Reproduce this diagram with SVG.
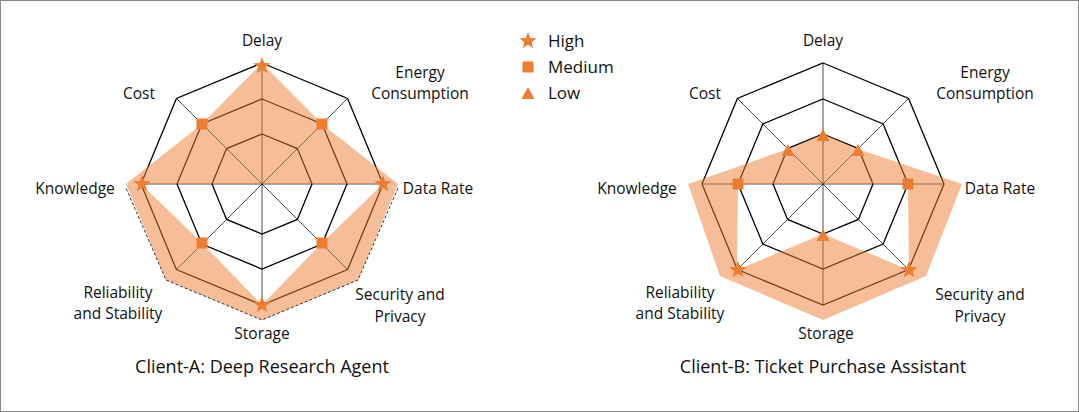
<svg xmlns="http://www.w3.org/2000/svg" xmlns:xlink="http://www.w3.org/1999/xlink" width="1079" height="412" viewBox="0 0 1079 412">
<style>
text{font-family:"Open Sans","Liberation Sans",sans-serif;font-size:15.5px;fill:#111;text-anchor:middle}
.t{font-size:18px}
.lg{text-anchor:start;font-size:17px}
.ring{fill:none;stroke:#000;stroke-width:1.3}
.spoke{stroke:#000;stroke-width:0.7}
.sh{fill:#ED7D31;fill-opacity:0.5;stroke:none}
.m{fill:#ED7D31}
.dash{fill:none;stroke:#333;stroke-width:1;stroke-dasharray:3 2}
</style>
<defs>
<path id="star" d="M0,-9 2.23,-3.07 8.56,-2.78 3.61,1.17 5.29,7.28 0,3.8 -5.29,7.28 -3.61,1.17 -8.56,-2.78 -2.23,-3.07Z"/>
<rect id="sq" x="-5.5" y="-5.5" width="11" height="11"/>
<path id="tri" d="M0,-7 6.5,5 -6.5,5Z"/>
<g id="grid">
<polygon class="ring" points="0,-121 85.6,-85.6 121,0 85.6,85.6 0,121 -85.6,85.6 -121,0 -85.6,-85.6"/>
<polygon class="ring" points="0,-85 60.1,-60.1 85,0 60.1,60.1 0,85 -60.1,60.1 -85,0 -60.1,-60.1"/>
<polygon class="ring" points="0,-50 35.4,-35.4 50,0 35.4,35.4 0,50 -35.4,35.4 -50,0 -35.4,-35.4"/>
<path class="spoke" d="M0,-121V121M-121,0H121M-85.6,-85.6L85.6,85.6M85.6,-85.6L-85.6,85.6"/>
</g>
</defs>
<rect x="0.5" y="0.5" width="1078" height="411" fill="#fff" stroke="#888"/>
<g id="chartA">
<use xlink:href="#grid" x="262" y="184"/>
<polygon class="sh" points="126,184 202,124 262,63 322,124 398,184"/>
<polygon class="sh" points="398,184 358,280 262,320 166,280 126,184 141,184 202,243 262,305 322,243 383,184"/>
<polyline class="dash" points="398,188 358,280 262,320 166,280 126,188"/>
<g class="m">
<use xlink:href="#star" x="262" y="66"/>
<use xlink:href="#sq" x="322" y="124"/>
<use xlink:href="#star" x="383" y="184"/>
<use xlink:href="#sq" x="322" y="243"/>
<use xlink:href="#star" x="262" y="305"/>
<use xlink:href="#sq" x="202" y="243"/>
<use xlink:href="#star" x="142" y="184"/>
<use xlink:href="#sq" x="202" y="124"/>
</g>
<text x="262" y="46">Delay</text>
<text x="420" y="78">Energy</text>
<text x="420" y="99">Consumption</text>
<text x="139" y="99">Cost</text>
<text x="438" y="194">Data Rate</text>
<text x="75" y="194">Knowledge</text>
<text x="118" y="298">Reliability</text>
<text x="118" y="319">and Stability</text>
<text x="400" y="300">Security and</text>
<text x="400" y="322">Privacy</text>
<text x="262" y="339">Storage</text>
<text class="t" x="262" y="373">Client-A: Deep Research Agent</text>
</g>
<g id="chartB">
<use xlink:href="#grid" x="823" y="184"/>
<polygon class="sh" points="688,184 788,149 823,134 858,149 962,184"/>
<polygon class="sh" points="962,184 926,276 823,320 720,276 688,184 738,184 737,270 823,234 909,270 908,184"/>
<g class="m">
<use xlink:href="#tri" x="823" y="136"/>
<use xlink:href="#tri" x="858" y="151"/>
<use xlink:href="#sq" x="908" y="184"/>
<use xlink:href="#star" x="909" y="270"/>
<use xlink:href="#tri" x="823" y="236"/>
<use xlink:href="#star" x="738" y="270"/>
<use xlink:href="#sq" x="738" y="184"/>
<use xlink:href="#tri" x="788" y="151"/>
</g>
<text x="823" y="46">Delay</text>
<text x="985" y="78">Energy</text>
<text x="985" y="99">Consumption</text>
<text x="705" y="99">Cost</text>
<text x="1000" y="194">Data Rate</text>
<text x="637" y="194">Knowledge</text>
<text x="680" y="298">Reliability</text>
<text x="680" y="319">and Stability</text>
<text x="980" y="300">Security and</text>
<text x="980" y="322">Privacy</text>
<text x="826" y="339">Storage</text>
<text class="t" x="823" y="373">Client-B: Ticket Purchase Assistant</text>
</g>
<g id="legend">
<use xlink:href="#star" x="528" y="41" class="m"/>
<use xlink:href="#sq" x="528" y="67" class="m"/>
<use xlink:href="#tri" x="528" y="94" class="m"/>
<text class="lg" x="548" y="47">High</text>
<text class="lg" x="548" y="73">Medium</text>
<text class="lg" x="548" y="99">Low</text>
</g>
</svg>
